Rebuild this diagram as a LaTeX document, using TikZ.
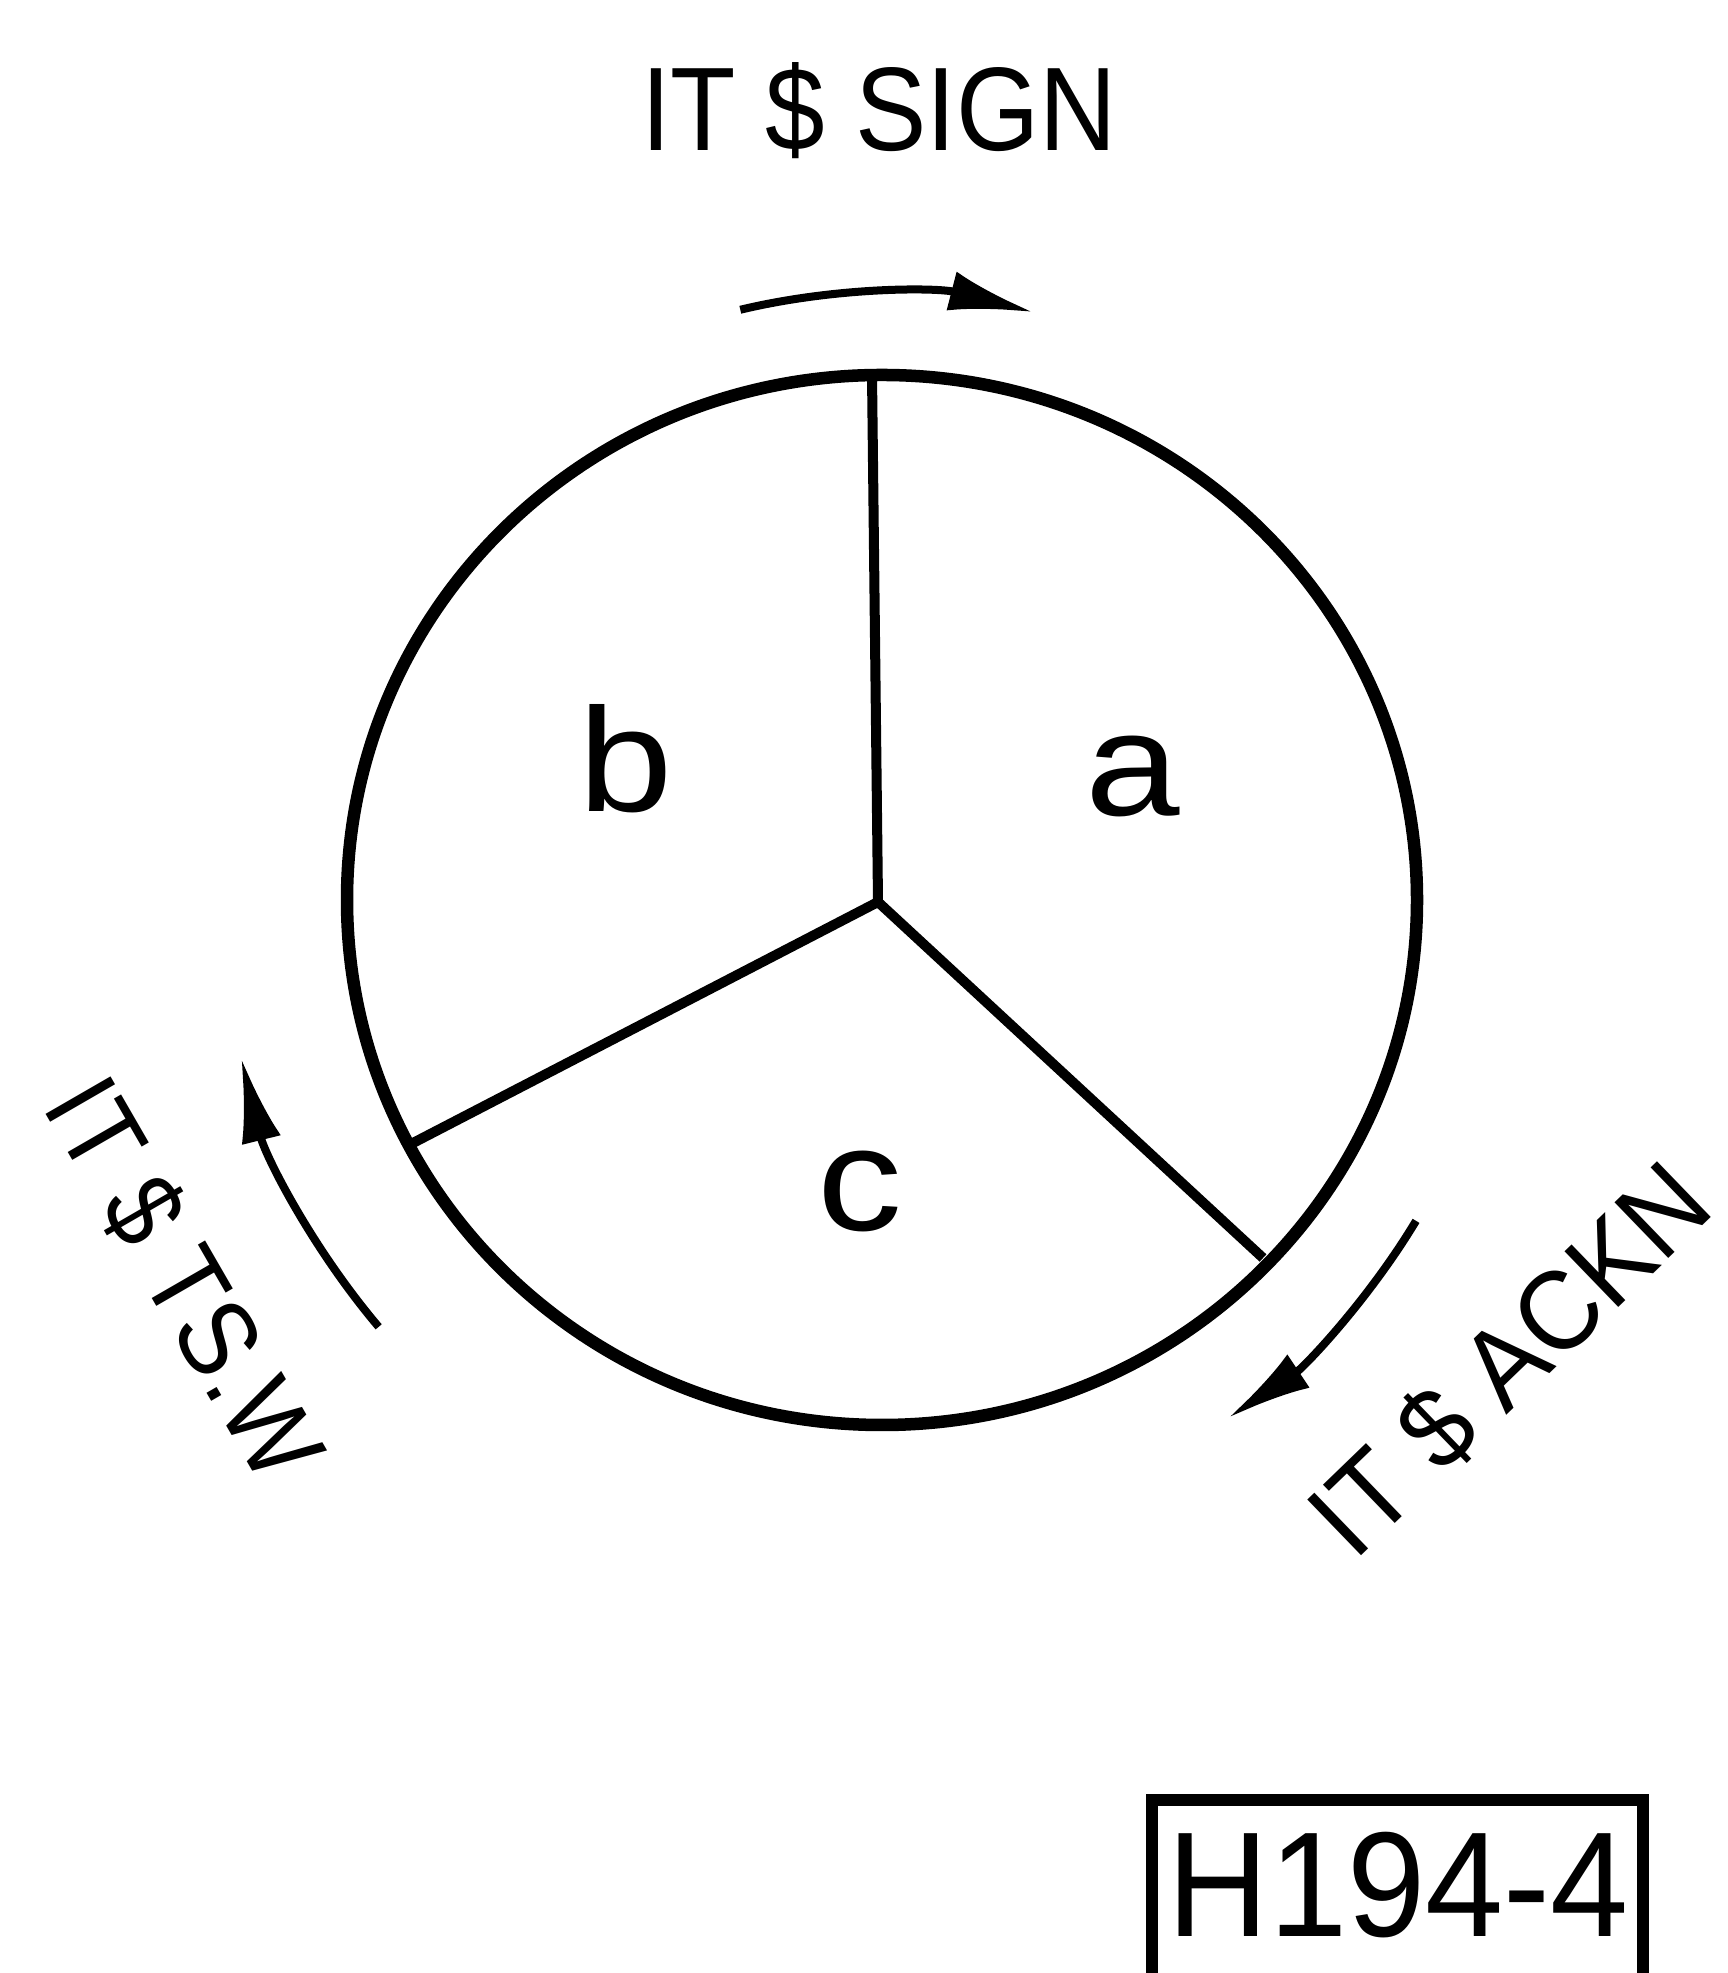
\documentclass[tikz,border=0pt]{standalone}
\usepackage{fontspec}
\setmainfont{Liberation Sans}[FakeStretch=0.9]
\newfontfamily\roundfont{Liberation Sans}[FakeStretch=1.15]
\newfontfamily\plainfont{Liberation Sans}[FakeStretch=0.94]
\usepackage{tikz}
\usetikzlibrary{arrows.meta, positioning, calc}

\begin{document}
\begin{tikzpicture}[x=0.01cm, y=0.01cm,
    rim/.style={line width=1.25mm},
    spoke/.style={line width=1mm},
    flow/.style={line width=0.8mm, -{Latex[length=8.5mm, width=4mm]}},
    lbl/.style={font=\fontsize{31}{36}\selectfont, anchor=base},
    sector/.style={font=\roundfont\fontsize{42}{48}\selectfont},
    tagframe/.style={line width=1.2mm}]
    \useasboundingbox (0,0) rectangle (1727,1973);
    \clip (0,0) rectangle (1727,1973);

    % Disc and spokes
    \coordinate (O) at (882,1073);
    \coordinate (hub) at (878,1071);
    \coordinate (rimA) at (872,1598);
    \coordinate (rimB) at (413,830);
    \coordinate (rimC) at (1263,715);
    \draw[rim] (O) ellipse [x radius=535, y radius=525];
    \draw[spoke] (hub) -- (rimA);
    \draw[spoke] (hub) -- (rimB);
    \draw[spoke] (hub) -- (rimC);

    % Sectors
    \node[sector] (a) at (1133,1196) {a};
    \node[sector] (b) at (626,1214) {b};
    \node[sector] (c) at (860,782) {c};

    % Rotation arrows
    \draw[flow] ([shift={(103.5:607)}]O) arc[start angle=103.5, end angle=75.5, radius=607];
    \draw[flow] ([shift={(220.3:660)}]O) arc[start angle=220.3, end angle=193.8, radius=660];
    \draw[flow] ([shift={(-31:623)}]O) arc[start angle=-31, end angle=-56.3, radius=623];

    % Labels
    \node[lbl, font=\fontsize{33.8}{40}\selectfont] (sign) at (879,1822) {IT \$ SIGN};
    \node[lbl, rotate=-60] (tsw) at (152,675) {IT \$ TS.W};
    \node[lbl, rotate=44, font=\plainfont\fontsize{32}{36}\selectfont] (ackn) at (1536,586) {IT \$ ACKN};

    % Drawing number
    \node[font=\plainfont\fontsize{42.5}{48}\selectfont] (tag) at (1398,88) {H194-4};
    \draw[tagframe] (1152,-20) |- (1643,173) -- (1643,-20);
\end{tikzpicture}
\end{document}
